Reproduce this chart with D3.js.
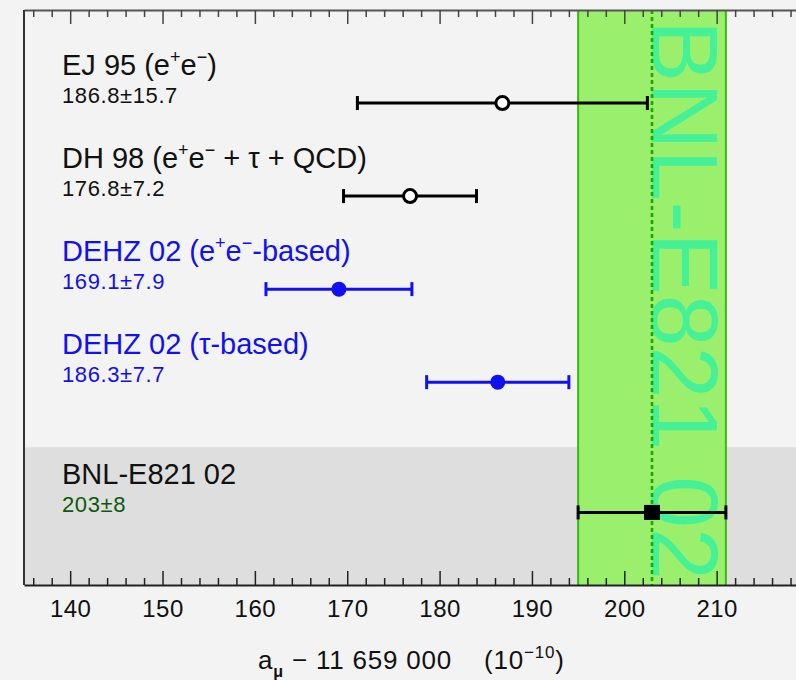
<!DOCTYPE html>
<html>
<head>
<meta charset="utf-8">
<script src="https://cdn.jsdelivr.net/npm/d3@7"></script>
<style>
  html, body { margin: 0; padding: 0; background: #f3f3f3; }
  svg { display: block; }
  text { font-family: "Liberation Sans", Arial, Helvetica, sans-serif; }
</style>
</head>
<body>
<svg id="chart" width="796" height="680"></svg>
<script>
// ---- data ----
const titles = ["EJ 95 (e^+e^−)", "DH 98 (e^+e^− + τ + QCD)", "DEHZ 02 (e^+e^−-based)", "DEHZ 02 (τ-based)", "BNL-E821 02"];
const valueLabels = ["186.8±15.7", "176.8±7.2", "169.1±7.9", "186.3±7.7", "203±8"];
const centers = [186.8, 176.8, 169.1, 186.3, 203];
const errors = [15.7, 7.2, 7.9, 7.7, 8];
const rowPos = [5, 4, 3, 2, 0.6];
const markers = ["open", "open", "filled", "filled", "square"];
const colorKeys = ["black", "black", "blue", "blue", "exp"];
const expValue = 203, expError = 8;
const expBandLabel = "BNL-E821 02";
const measuredFrom = 1.3;
const xDomain = [135, 220];
const yDomain = [-0.18, 6];
const majorTicks = [140, 150, 160, 170, 180, 190, 200, 210, 220];
const minorTicks = d3.range(136, 220, 2);

// ---- styles ----
const palette = { black: "#111111", blue: "#1010f2", exp: "#111111" };
const valueColor = { black: "#111111", blue: "#1010f2", exp: "#0a5a0a" };

const svg = d3.select("#chart");
const W = 796, H = 680;
const x = d3.scaleLinear().domain(xDomain).range([24, 809]);
const y = d3.scaleLinear().domain(yDomain).range([585, 10]);

svg.append("rect").attr("width", W).attr("height", H).attr("fill", "#f3f3f3");

// measured region shading
svg.append("rect")
  .attr("x", x(xDomain[0])).attr("y", y(measuredFrom))
  .attr("width", x(xDomain[1]) - x(xDomain[0]))
  .attr("height", y(yDomain[0]) - y(measuredFrom))
  .attr("fill", "#dedede");

// experimental band
const bx0 = x(expValue - expError), bx1 = x(expValue + expError);
svg.append("rect")
  .attr("x", bx0).attr("y", y(yDomain[1]))
  .attr("width", bx1 - bx0).attr("height", y(yDomain[0]) - y(yDomain[1]))
  .attr("fill", "#9af06c");
[bx0, bx1].forEach(v => {
  svg.append("line").attr("x1", v).attr("x2", v)
    .attr("y1", y(yDomain[1])).attr("y2", y(yDomain[0]))
    .attr("stroke", "#3cb815").attr("stroke-width", 2);
});

// rotated band label
svg.append("text")
  .attr("transform", `translate(${x(expValue)},20) rotate(90)`)
  .attr("font-size", 95)
  .attr("fill", "#45f096")
  .attr("textLength", 560)
  .attr("lengthAdjust", "spacingAndGlyphs")
  .text(expBandLabel);

svg.append("line")
  .attr("x1", x(expValue)).attr("x2", x(expValue))
  .attr("y1", y(yDomain[1])).attr("y2", y(yDomain[0]))
  .attr("stroke", "#1fa600").attr("stroke-width", 2.6)
  .attr("stroke-dasharray", "4,3");

// ---- axes ----
const bottomMajor = d3.axisBottom(x).tickValues(majorTicks.filter(t => t < xDomain[1]))
  .tickSizeInner(-14).tickSizeOuter(0).tickPadding(15).tickFormat(d3.format("d"));
const gB = svg.append("g").attr("transform", `translate(0,${y(yDomain[0])})`).call(bottomMajor);
gB.select(".domain").attr("stroke", "#222").attr("stroke-width", 2);
gB.selectAll(".tick line").attr("stroke", "#222").attr("stroke-width", 1.5);
gB.selectAll(".tick text").attr("font-size", 24).attr("fill", "#111")
  .attr("letter-spacing", 0.5)
  .attr("font-family", "'Liberation Sans', Arial, sans-serif");

const bottomMinor = d3.axisBottom(x).tickValues(minorTicks.filter(t => t % 10 !== 0))
  .tickSizeInner(-7).tickSizeOuter(0).tickFormat("");
const gBm = svg.append("g").attr("transform", `translate(0,${y(yDomain[0])})`).call(bottomMinor);
gBm.select(".domain").remove();
gBm.selectAll(".tick line").attr("stroke", "#222").attr("stroke-width", 1.5);

const topMajor = d3.axisTop(x).tickValues(majorTicks.filter(t => t < xDomain[1]))
  .tickSizeInner(-14).tickSizeOuter(0).tickFormat("");
const gT = svg.append("g").attr("transform", `translate(0,${y(yDomain[1])})`).call(topMajor);
gT.select(".domain").attr("stroke", "#555").attr("stroke-width", 2);
gT.selectAll(".tick line").attr("stroke", "#444").attr("stroke-width", 1.5);

const topMinor = d3.axisTop(x).tickValues(minorTicks.filter(t => t % 10 !== 0))
  .tickSizeInner(-7).tickSizeOuter(0).tickFormat("");
const gTm = svg.append("g").attr("transform", `translate(0,${y(yDomain[1])})`).call(topMinor);
gTm.select(".domain").remove();
gTm.selectAll(".tick line").attr("stroke", "#444").attr("stroke-width", 1.5);

// left frame
svg.append("line")
  .attr("x1", x(xDomain[0])).attr("x2", x(xDomain[0]))
  .attr("y1", y(yDomain[1])).attr("y2", y(yDomain[0]))
  .attr("stroke", "#333").attr("stroke-width", 2);

// axis title
const xt = svg.append("text").attr("x", 258).attr("y", 669).attr("font-size", 26)
  .attr("letter-spacing", 0.8).attr("fill", "#111");
xt.append("tspan").text("a");
xt.append("tspan").attr("dy", 8).attr("font-size", 16).attr("font-weight", "bold").text("μ");
xt.append("tspan").attr("dy", -8).text(" − 11 659 000");
const xt2 = svg.append("text").attr("x", 484).attr("y", 669).attr("font-size", 26)
  .attr("letter-spacing", 0.8).attr("fill", "#111");
xt2.append("tspan").text("(10");
xt2.append("tspan").attr("dy", -11).attr("font-size", 17).text("−10");
xt2.append("tspan").attr("dy", 11).text(")");

// ---- labels ----
function addRich(sel, str, size) {
  const parts = [];
  let buf = "";
  for (let i = 0; i < str.length; i++) {
    if (str[i] === "^") {
      if (buf) parts.push({ t: buf, sup: false });
      buf = "";
      parts.push({ t: str[i + 1], sup: true });
      i++;
    } else buf += str[i];
  }
  if (buf) parts.push({ t: buf, sup: false });
  let shifted = false;
  parts.forEach(p => {
    const ts = sel.append("tspan").text(p.t);
    if (p.sup && !shifted) { ts.attr("dy", -size * 0.42).attr("font-size", size * 0.62); shifted = true; }
    else if (p.sup) { ts.attr("font-size", size * 0.62); }
    else if (!p.sup && shifted) { ts.attr("dy", size * 0.42); shifted = false; }
  });
}

titles.forEach((t, i) => {
  const ty = y(rowPos[i]);
  const tx = svg.append("text").attr("x", 62).attr("y", ty - 28)
    .attr("font-size", 29).attr("fill", palette[colorKeys[i]]);
  addRich(tx, t, 29);
  svg.append("text").attr("x", 62).attr("y", ty)
    .attr("font-size", 22).attr("letter-spacing", 0.6).attr("fill", valueColor[colorKeys[i]])
    .text(valueLabels[i]);
});

// ---- error bars ----
centers.forEach((c, i) => {
  const col = colorKeys[i] === "blue" ? "#1010f2" : "#000";
  const cy = y(rowPos[i]);
  const g = svg.append("g");
  g.append("line").attr("x1", x(c - errors[i])).attr("x2", x(c + errors[i]))
    .attr("y1", cy).attr("y2", cy).attr("stroke", col).attr("stroke-width", 3);
  [c - errors[i], c + errors[i]].forEach(e => {
    g.append("line").attr("x1", x(e)).attr("x2", x(e))
      .attr("y1", cy - 7).attr("y2", cy + 7).attr("stroke", col).attr("stroke-width", 3);
  });
  if (markers[i] === "open") {
    g.append("circle").attr("cx", x(c)).attr("cy", cy).attr("r", 6.5)
      .attr("fill", "#ffffff").attr("stroke", col).attr("stroke-width", 3);
  } else if (markers[i] === "filled") {
    g.append("circle").attr("cx", x(c)).attr("cy", cy).attr("r", 7.5).attr("fill", col);
  } else {
    g.append("rect").attr("x", x(c) - 8).attr("y", cy - 7.5)
      .attr("width", 16).attr("height", 15).attr("fill", col);
  }
});
</script>
</body>
</html>
